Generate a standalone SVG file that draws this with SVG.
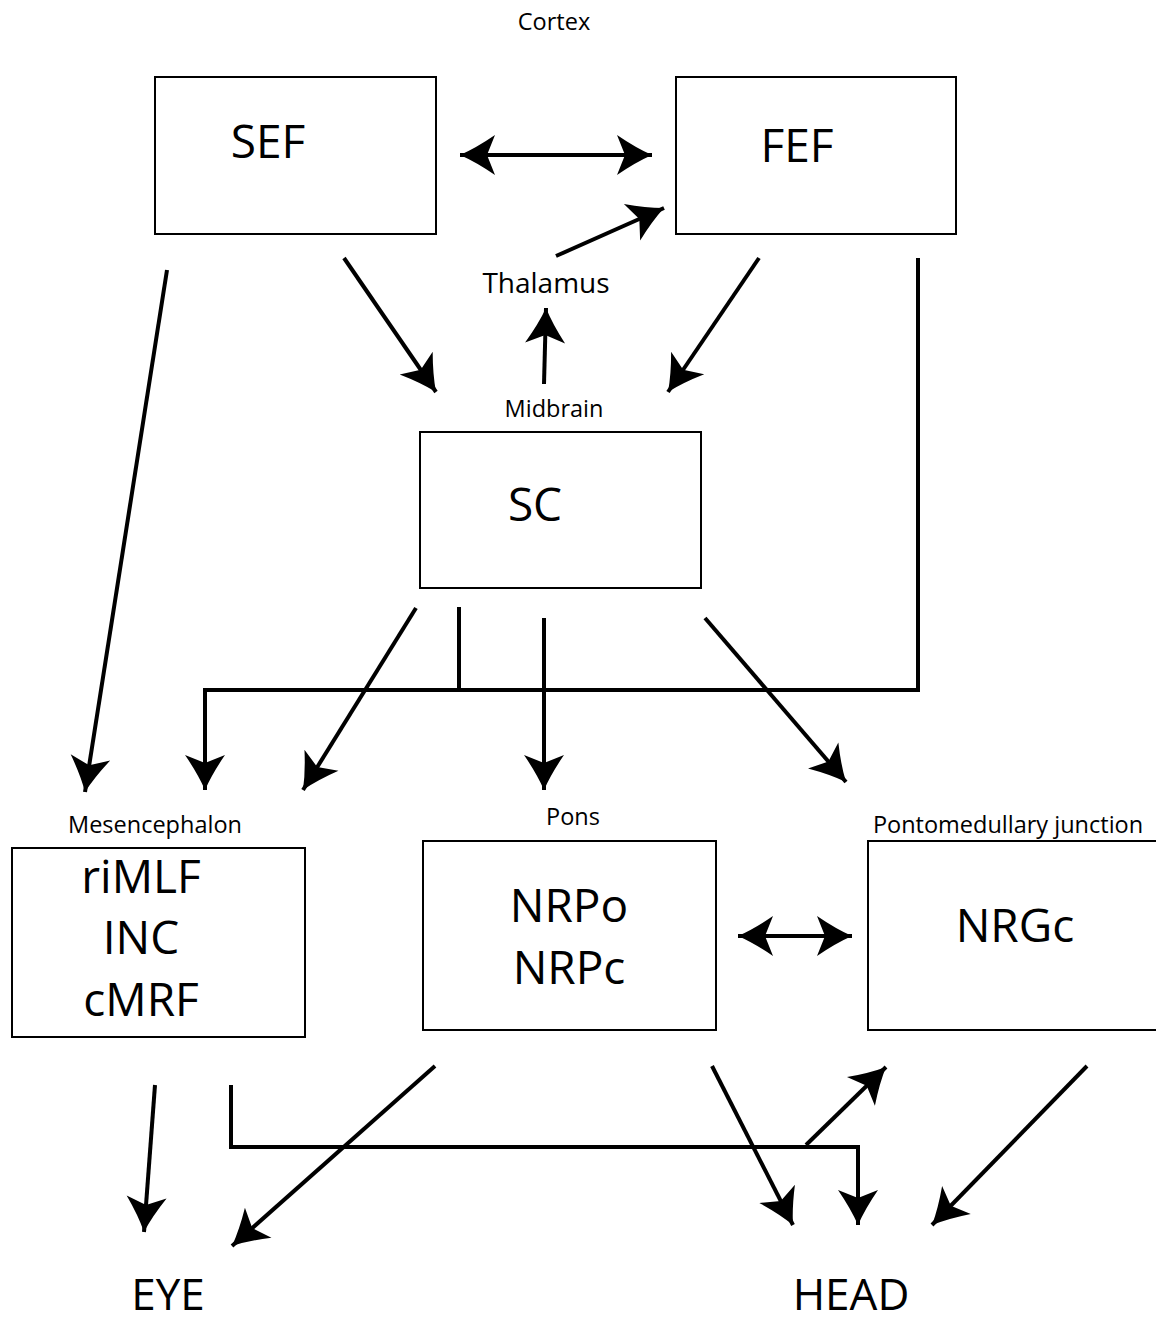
<svg xmlns="http://www.w3.org/2000/svg" width="1156" height="1321" viewBox="0 0 1156 1321">
<style>
.box{fill:#fff;stroke:#000;stroke-width:2}
.big{font-family:"Open Sans","Liberation Sans",sans-serif;font-size:46px;text-anchor:middle;fill:#000}
.mid{font-family:"Open Sans","Liberation Sans",sans-serif;font-size:28px;text-anchor:middle;fill:#000}
.small{font-family:"Open Sans","Liberation Sans",sans-serif;font-size:23.5px;text-anchor:middle;fill:#000}
.bottom{font-size:44px}
.c{fill:none;stroke:#000;stroke-width:4}
.a{marker-end:url(#ah)}
.d{marker-end:url(#ah);marker-start:url(#ah)}
</style>
<defs>
<marker id="ah" markerUnits="userSpaceOnUse" markerWidth="44" markerHeight="44" viewBox="0 0 44 44" refX="40" refY="22" orient="auto-start-reverse">
<path d="M40,22 Q24,15 5,2 L13,22 L5,42 Q24,29 40,22 Z" fill="#000"/>
</marker>
</defs>
<rect width="1156" height="1321" fill="#fff"/>
<text class="small" x="554" y="30">Cortex</text>
<g id="SEF"><rect class="box" x="155" y="77" width="281" height="157"/><text class="big" x="268" y="158">SEF</text></g>
<g id="FEF"><rect class="box" x="676" y="77" width="280" height="157"/><text class="big" x="797" y="162">FEF</text></g>
<g id="Thalamus"><text class="mid" x="546" y="293">Thalamus</text></g>
<g id="SC"><text class="small" x="554" y="417">Midbrain</text><rect class="box" x="420" y="432" width="281" height="156"/><text class="big" x="535" y="521">SC</text></g>
<g id="Mes"><text class="small" x="155" y="833">Mesencephalon</text><rect class="box" x="12" y="848" width="293" height="189"/>
<text class="big" x="141" y="893">riMLF</text><text class="big" x="141" y="954">INC</text><text class="big" x="141" y="1016">cMRF</text></g>
<g id="Pons"><text class="small" x="573" y="825">Pons</text><rect class="box" x="423" y="841" width="293" height="189"/>
<text class="big" x="569" y="922">NRPo</text><text class="big" x="569" y="984">NRPc</text></g>
<g id="NRGc"><text class="small" x="1008" y="833">Pontomedullary junction</text><rect class="box" x="868" y="841" width="300" height="189"/><text class="big" x="1015" y="942">NRGc</text></g>
<g id="EYE"><text class="big bottom" x="168" y="1310">EYE</text></g>
<g id="HEAD"><text class="big bottom" x="851" y="1310">HEAD</text></g>
<g id="connectors">
<line class="c d" x1="460" y1="155" x2="652" y2="155"/>
<line class="c a" x1="556" y1="256" x2="664" y2="208"/>
<line class="c a" x1="544" y1="384" x2="546" y2="308"/>
<line class="c a" x1="344" y1="258" x2="436" y2="392"/>
<line class="c a" x1="759" y1="258" x2="668" y2="392"/>
<polyline class="c a" points="918,258 918,690 205,690 205,790"/>
<line class="c" x1="459" y1="607" x2="459" y2="690"/>
<line class="c a" x1="416" y1="608" x2="303" y2="790"/>
<line class="c a" x1="544" y1="618" x2="544" y2="790"/>
<line class="c a" x1="705" y1="618" x2="846" y2="782"/>
<line class="c a" x1="167" y1="270" x2="85" y2="792"/>
<line class="c d" x1="738" y1="936" x2="852" y2="936"/>
<line class="c a" x1="155" y1="1085" x2="144" y2="1232"/>
<polyline class="c a" points="231,1085 231,1147 858,1147 858,1225"/>
<line class="c a" x1="435" y1="1066" x2="232" y2="1246"/>
<line class="c a" x1="712" y1="1066" x2="793" y2="1225"/>
<line class="c a" x1="806" y1="1145" x2="886" y2="1067"/>
<line class="c a" x1="1087" y1="1066" x2="932" y2="1225"/>
</g>
</svg>
